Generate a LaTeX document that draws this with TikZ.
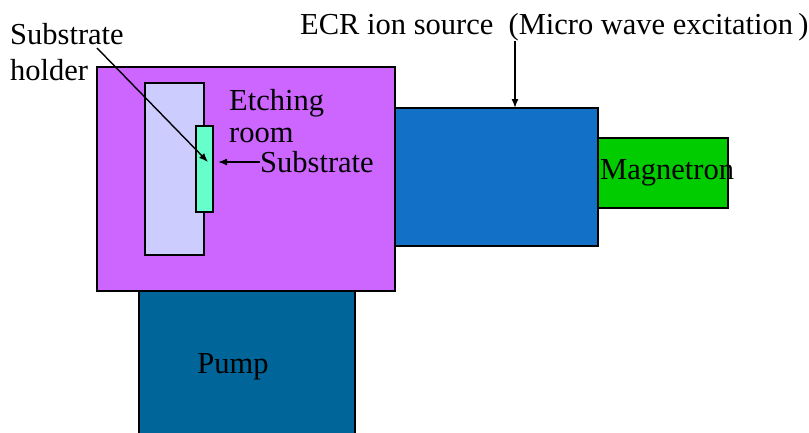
\documentclass[tikz,border=0pt]{standalone}
\usepackage{fontspec}
\setmainfont{Liberation Serif}
\usepackage{tikz}
\usetikzlibrary{positioning,arrows.meta}

\definecolor{etchpurple}{RGB}{204,102,255}
\definecolor{holdlav}{RGB}{204,204,255}
\definecolor{subgreen}{RGB}{102,255,204}
\definecolor{ecrblue}{RGB}{18,112,198}
\definecolor{magngreen}{RGB}{0,204,0}
\definecolor{pumpblue}{RGB}{0,102,153}

\begin{document}
\begin{tikzpicture}[x=1pt, y=-1pt, every node/.style={font=\fontsize{30.5}{32}\selectfont}, box/.style={draw, line width=2.8pt, inner sep=0pt, outer sep=0pt, anchor=north west}, lbl/.style={inner sep=0pt, align=left}, arr/.style={-{Latex[length=9pt,width=7pt]}, line width=1.4pt}]
\clip (0,0) rectangle (809,432);
% chambers
\node[box, fill=pumpblue, minimum width=216pt, minimum height=160pt] (pump) at (139,291) {};
\node[box, fill=ecrblue, minimum width=204pt, minimum height=138pt] (ecr) at (394,108) {};
\node[box, fill=magngreen, minimum width=130pt, minimum height=70pt] (magn) at (598,138) {};
\node[box, fill=etchpurple, minimum width=298pt, minimum height=224pt] (etch) at (97,67) {};
\node[box, fill=holdlav, minimum width=59pt, minimum height=172pt] (hold) at (145,83) {};
\node[box, fill=subgreen, minimum width=17pt, minimum height=86pt] (sub) at (196,126) {};
% labels
\node[lbl, anchor=west] (magnlbl) at (600,173) {Magnetron};
\node[lbl, anchor=west] (etchlbl) at (229,116) {Etching\\room};
\node[lbl, anchor=west] (sublbl) at (260,162) {Substrate};
\node[lbl, anchor=north west] (holdlbl) at (10,23) {Substrate\\[4pt]holder};
\node[lbl, anchor=west] (ecrlbl) at (300,27) {ECR ion source\enspace(Micro wave excitation\,)};
\node[lbl] (pumplbl) at (233,367) {Pump};
\coordinate (holdtail) at (97,48);
\coordinate (holdtip) at (208,162);
\coordinate (ecrtop) at (515,108);
\draw[arr] (holdtail) -- (holdtip);
\draw[arr] (sublbl.west) -- ([xshift=5pt]sub.east |- sublbl.west);
\draw[arr] (ecrlbl.south -| ecrtop) -- (ecrtop);
\end{tikzpicture}
\end{document}
